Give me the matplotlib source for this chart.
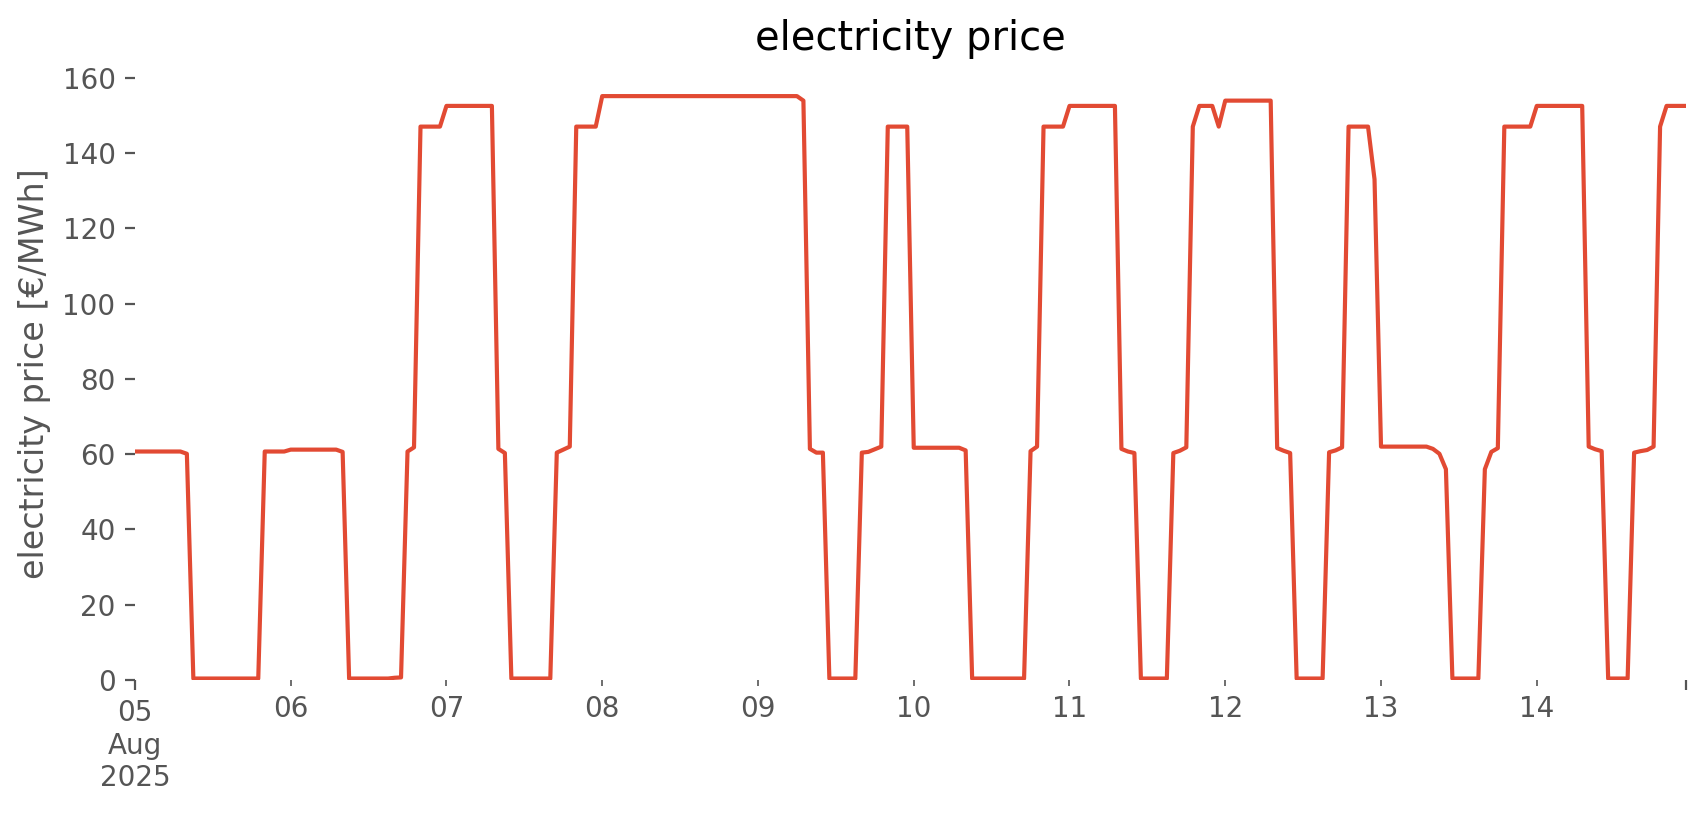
import matplotlib
matplotlib.use("Agg")
import matplotlib.pyplot as plt
import pandas as pd

# hourly electricity price [€/MWh], one list per day (05..14 Aug 2025)
aug05 = [60.7] * 8 + [60.1] + [0.4] * 11 + [60.7] * 4
aug06 = [61.2] * 8 + [60.6] + [0.4] * 7 + [0.6, 0.7] + [60.7, 61.8] + [147.0] * 4
aug07 = [152.5] * 8 + [61.4, 60.3] + [0.4] * 7 + [60.4, 61.2, 62.0] + [147.0] * 4
aug08 = [155.1] * 24
aug09 = [155.1] * 7 + [153.9, 61.4, 60.4, 60.4] + [0.4] * 5 + [60.4, 60.6, 61.3, 62.0] + [147.0] * 4
aug10 = [61.7] * 8 + [61.0] + [0.4] * 9 + [60.8, 62.0] + [147.0] * 4
aug11 = [152.5] * 8 + [61.4, 60.7, 60.3] + [0.4] * 5 + [60.3, 60.9, 61.8, 147.0] + [152.5] * 3 + [147.0]
aug12 = [153.9] * 8 + [61.6, 60.9, 60.3] + [0.4] * 5 + [60.5, 61.0, 61.8] + [147.0] * 4 + [133.0]
aug13 = [62.0] * 8 + [61.4, 60.1, 56.0] + [0.4] * 5 + [56.0, 60.6, 61.6] + [147.0] * 5
aug14 = [152.5] * 8 + [62.0, 61.3, 60.8] + [0.4] * 4 + [60.4, 60.8, 61.1, 62.0, 147.0] + [152.5] * 4

price = aug05 + aug06 + aug07 + aug08 + aug09 + aug10 + aug11 + aug12 + aug13 + aug14
index = pd.date_range("2025-08-05", periods=len(price), freq="h")
day_labels = ["06", "07", "08", "09", "10", "11", "12", "13", "14"]

GREY = "#555555"

fig = plt.figure(figsize=(8.53, 4.075), dpi=200)
ax = fig.add_axes([0.0791, 0.1656, 0.9092, 0.7522])
ax.plot(index, price, color="#E24A33", lw=1.5)

ax.set_xlim(index[0], index[-1])
ax.set_ylim(bottom=0)
for s in ax.spines.values():
    s.set_visible(False)
ax.grid(False)

# pandas-like date ticks: major at the ends, minor on each day
ax.set_xticks([index[0], index[-1]], ["05\nAug\n2025", ""])
days = pd.date_range("2025-08-06", periods=len(day_labels), freq="D")
ax.set_xticks(days, day_labels, minor=True)
ax.tick_params(axis="both", which="both", colors=GREY, labelsize=10, direction="out")
ax.tick_params(axis="x", which="minor", length=2)

ax.set_ylabel("electricity price [€/MWh]", fontsize=12, color=GREY)
ax.set_title("electricity price", fontsize=14.4)

fig.savefig("out.png", dpi=200)
